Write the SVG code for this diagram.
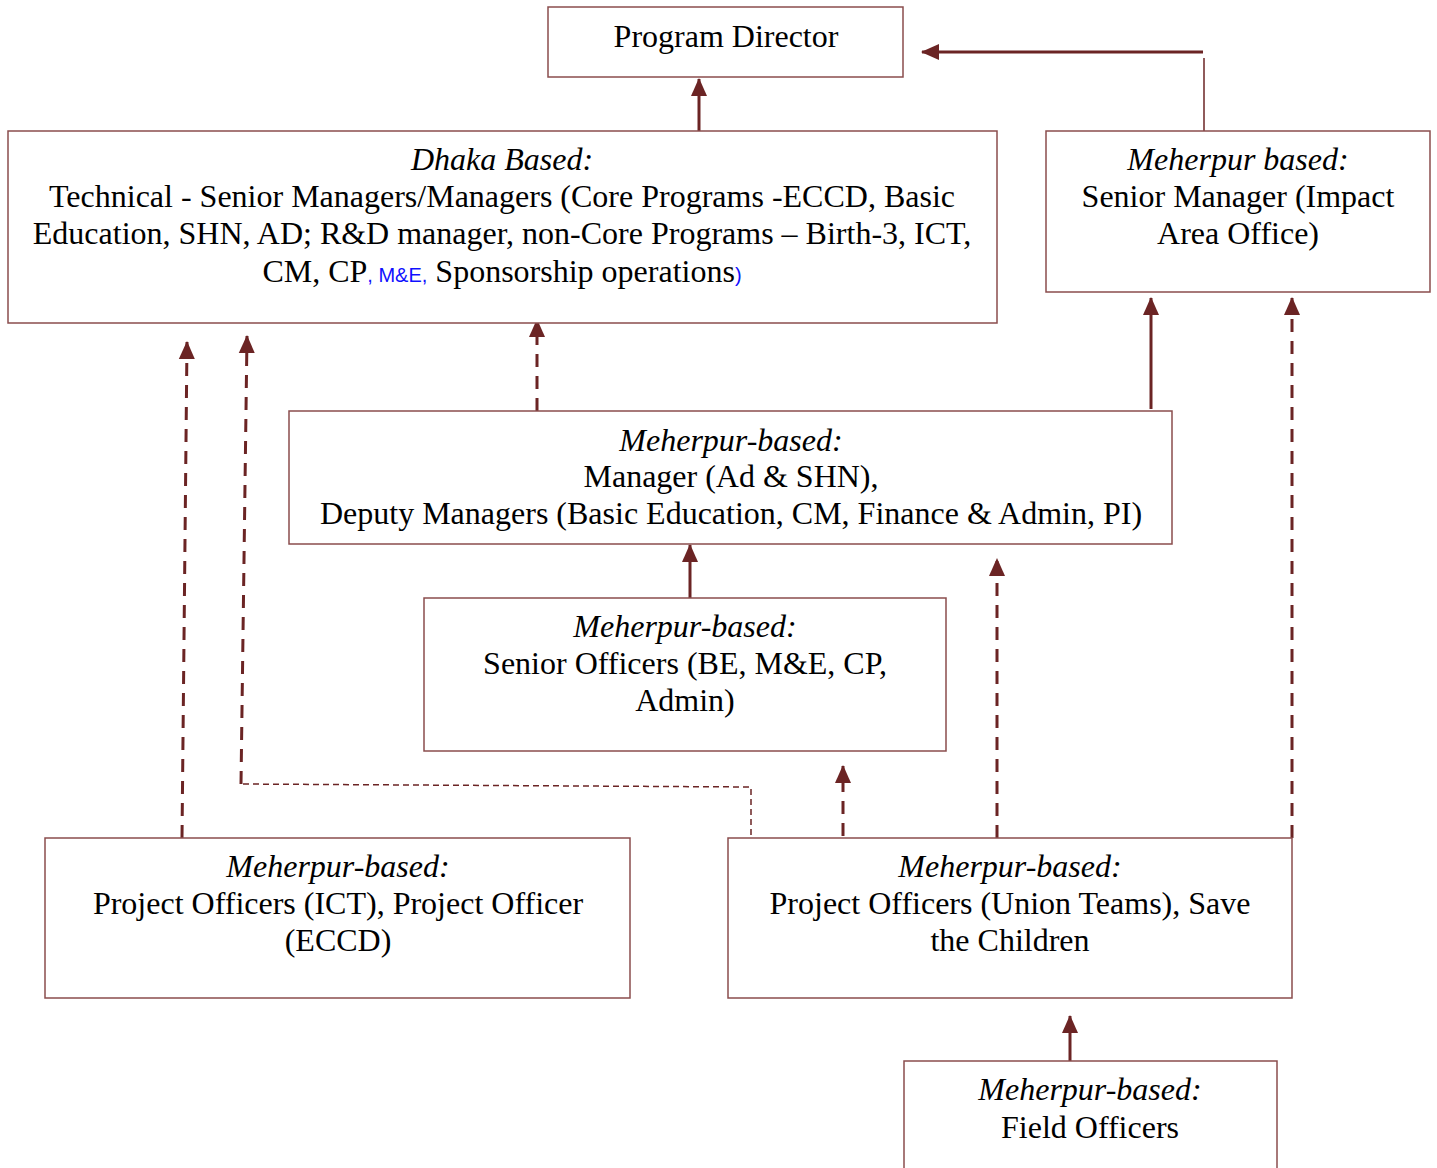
<svg xmlns="http://www.w3.org/2000/svg" width="1437" height="1168" viewBox="0 0 1437 1168">
<style>
.box{fill:#fff;stroke:#8a4d4d;stroke-width:1.5}
.t{font-family:"Liberation Serif","Times New Roman",serif;font-size:32px;fill:#000;text-anchor:middle}
.i{font-style:italic}
.solid{fill:none;stroke:#6b2424;stroke-width:3}
.dash{fill:none;stroke:#6b2424;stroke-width:3;stroke-dasharray:13 9}
.thin{fill:none;stroke:#6b2424;stroke-width:1.5;stroke-dasharray:6 4}
.blue{font-family:"Liberation Sans",Arial,sans-serif;font-size:20px;fill:#1010ff}
</style>
<defs>
<marker id="ah" markerUnits="userSpaceOnUse" markerWidth="20" markerHeight="20" viewBox="0 0 20 20" refX="17" refY="10" orient="auto">
<path d="M0,2 L18,10 L0,18 Z" fill="#6b2424"/>
</marker>
</defs>
<rect width="1437" height="1168" fill="#fff"/>
<g id="connectors">
<line class="solid" x1="699" y1="131" x2="699" y2="79" marker-end="url(#ah)"/>
<line class="solid" x1="1204" y1="131" x2="1204" y2="58" style="stroke-width:1.5"/>
<line class="solid" x1="1203" y1="52" x2="922" y2="52" marker-end="url(#ah)"/>
<line class="dash" x1="537" y1="411" x2="537" y2="320" marker-end="url(#ah)"/>
<line class="solid" x1="1151" y1="409" x2="1151" y2="298" marker-end="url(#ah)"/>
<line class="solid" x1="690" y1="600" x2="690" y2="545" marker-end="url(#ah)"/>
<line class="dash" x1="182" y1="838" x2="187" y2="342" marker-end="url(#ah)"/>
<polyline class="thin" points="751,835 751,787 241,784"/>
<line class="dash" x1="241" y1="784" x2="247" y2="336" marker-end="url(#ah)"/>
<line class="dash" x1="843" y1="836" x2="843" y2="766" marker-end="url(#ah)"/>
<line class="dash" x1="997" y1="838" x2="997" y2="559" marker-end="url(#ah)"/>
<line class="dash" x1="1292" y1="838" x2="1292" y2="298" marker-end="url(#ah)"/>
<line class="solid" x1="1070" y1="1061" x2="1070" y2="1016" marker-end="url(#ah)"/>
</g>
<g id="program-director">
<rect class="box" x="548" y="7" width="355" height="70"/>
<text class="t" x="726" y="47">Program Director</text>
</g>
<g id="dhaka-based">
<rect class="box" x="8" y="131" width="989" height="192"/>
<text class="t i" x="502" y="170">Dhaka Based:</text>
<text class="t" x="502" y="207">Technical - Senior Managers/Managers (Core Programs -ECCD, Basic</text>
<text class="t" x="502" y="244">Education, SHN, AD; R&amp;D manager, non-Core Programs – Birth-3, ICT,</text>
<text class="t" x="502" y="282">CM, CP<tspan class="blue">, M&amp;E,</tspan> Sponsorship operations<tspan class="blue">)</tspan></text>
</g>
<g id="meherpur-senior-manager">
<rect class="box" x="1046" y="131" width="384" height="161"/>
<text class="t i" x="1238" y="170">Meherpur based:</text>
<text class="t" x="1238" y="207">Senior Manager (Impact</text>
<text class="t" x="1238" y="244">Area Office)</text>
</g>
<g id="meherpur-managers">
<rect class="box" x="289" y="411" width="883" height="133"/>
<text class="t i" x="731" y="451">Meherpur-based:</text>
<text class="t" x="731" y="487">Manager (Ad &amp; SHN),</text>
<text class="t" x="731" y="524">Deputy Managers (Basic Education, CM, Finance &amp; Admin, PI)</text>
</g>
<g id="senior-officers">
<rect class="box" x="424" y="598" width="522" height="153"/>
<text class="t i" x="685" y="637">Meherpur-based:</text>
<text class="t" x="685" y="674">Senior Officers (BE, M&amp;E, CP,</text>
<text class="t" x="685" y="711">Admin)</text>
</g>
<g id="project-officers-ict">
<rect class="box" x="45" y="838" width="585" height="160"/>
<text class="t i" x="338" y="877">Meherpur-based:</text>
<text class="t" x="338" y="914">Project Officers (ICT), Project Officer</text>
<text class="t" x="338" y="951">(ECCD)</text>
</g>
<g id="project-officers-union">
<rect class="box" x="728" y="838" width="564" height="160"/>
<text class="t i" x="1010" y="877">Meherpur-based:</text>
<text class="t" x="1010" y="914">Project Officers (Union Teams), Save</text>
<text class="t" x="1010" y="951">the Children</text>
</g>
<g id="field-officers">
<rect class="box" x="904" y="1061" width="373" height="120"/>
<text class="t i" x="1090" y="1100">Meherpur-based:</text>
<text class="t" x="1090" y="1138">Field Officers</text>
</g>
</svg>
